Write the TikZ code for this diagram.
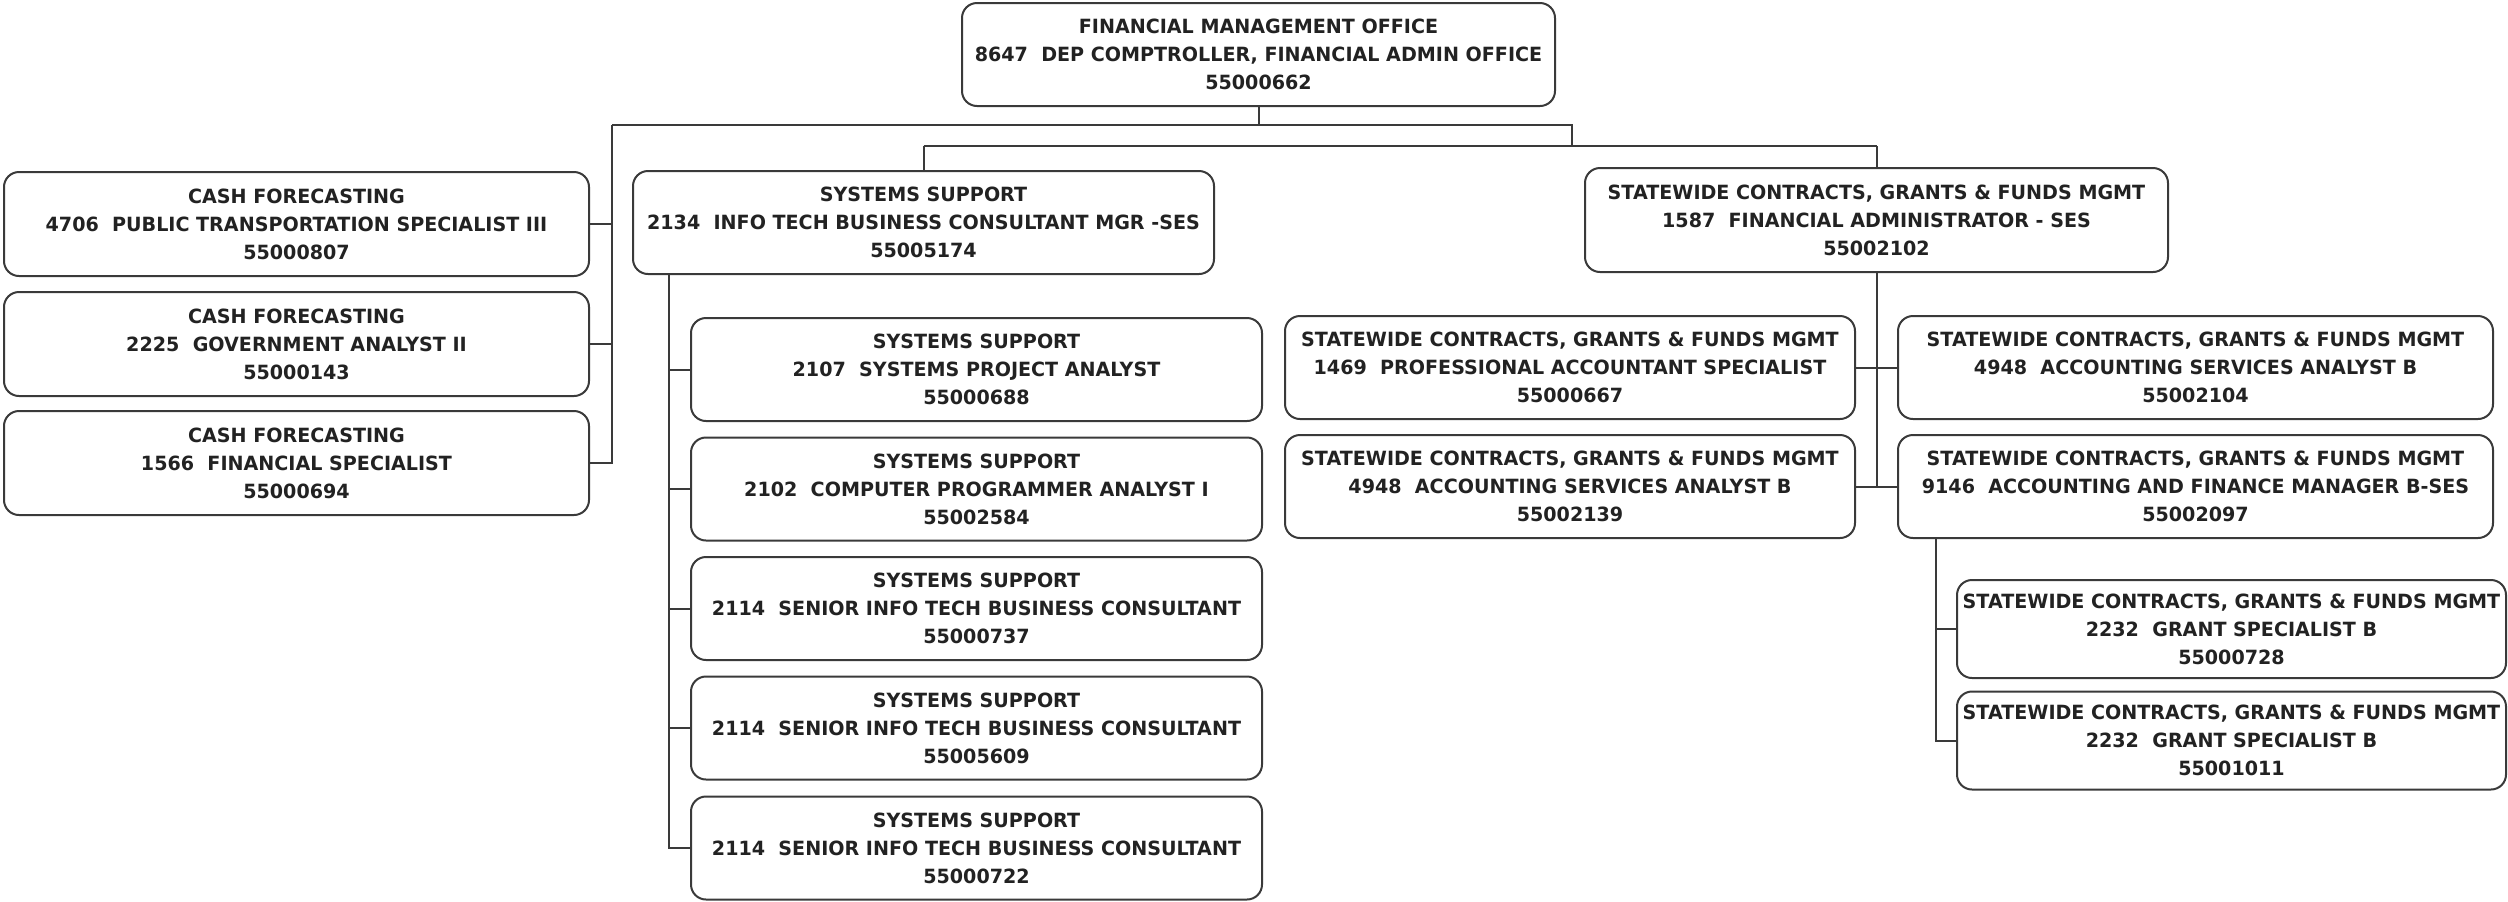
\documentclass[tikz,border=0pt]{standalone}
\usepackage{fontspec}
\newfontfamily\orgfont{DejaVu Sans}[FakeStretch=0.975]
\definecolor{linec}{HTML}{3A3A3A}
\definecolor{textc}{HTML}{222222}
\begin{document}
\begin{tikzpicture}[x=0.5pt,y=-0.5pt,
  orgbox/.style={draw=linec, line width=1pt, rounded corners=7.5pt, fill=white,
    inner sep=0pt, align=center, text=textc,
    font=\orgfont\bfseries\fontsize{9.8}{14}\selectfont},
  wh/.style 2 args={minimum width=#1*0.5pt, minimum height=#2*0.5pt},
  link/.style={draw=linec, line width=1pt}]
\useasboundingbox (0,0) rectangle (2508,901);

% head office
\node[orgbox, wh={593}{103}] (top) at (1258.5,54.5)
  {FINANCIAL MANAGEMENT OFFICE\\8647\ \ DEP COMPTROLLER, FINANCIAL ADMIN OFFICE\\55000662};

% cash forecasting
\node[orgbox, wh={585}{104}] (cash1) at (296.5,224)
  {CASH FORECASTING\\4706\ \ PUBLIC TRANSPORTATION SPECIALIST III\\55000807};
\node[orgbox, wh={585}{104}] (cash2) at (296.5,344)
  {CASH FORECASTING\\2225\ \ GOVERNMENT ANALYST II\\55000143};
\node[orgbox, wh={585}{104}] (cash3) at (296.5,463)
  {CASH FORECASTING\\1566\ \ FINANCIAL SPECIALIST\\55000694};

% systems support
\node[orgbox, wh={581}{103}] (sys) at (923.5,222.5)
  {SYSTEMS SUPPORT\\2134\ \ INFO TECH BUSINESS CONSULTANT MGR -SES\\55005174};
\node[orgbox, wh={571}{103}] (sub1) at (976.5,369.5)
  {SYSTEMS SUPPORT\\2107\ \ SYSTEMS PROJECT ANALYST\\55000688};
\node[orgbox, wh={571}{103}] (sub2) at (976.5,489)
  {SYSTEMS SUPPORT\\2102\ \ COMPUTER PROGRAMMER ANALYST I\\55002584};
\node[orgbox, wh={571}{103}] (sub3) at (976.5,608.5)
  {SYSTEMS SUPPORT\\2114\ \ SENIOR INFO TECH BUSINESS CONSULTANT\\55000737};
\node[orgbox, wh={571}{103}] (sub4) at (976.5,728)
  {SYSTEMS SUPPORT\\2114\ \ SENIOR INFO TECH BUSINESS CONSULTANT\\55005609};
\node[orgbox, wh={571}{103}] (sub5) at (976.5,848)
  {SYSTEMS SUPPORT\\2114\ \ SENIOR INFO TECH BUSINESS CONSULTANT\\55000722};

% statewide contracts, grants & funds
\node[orgbox, wh={583}{104}] (sw) at (1876.5,220)
  {STATEWIDE CONTRACTS, GRANTS \& FUNDS MGMT\\1587\ \ FINANCIAL ADMINISTRATOR - SES\\55002102};
\node[orgbox, wh={570}{103}] (swl1) at (1570,367.5)
  {STATEWIDE CONTRACTS, GRANTS \& FUNDS MGMT\\1469\ \ PROFESSIONAL ACCOUNTANT SPECIALIST\\55000667};
\node[orgbox, wh={570}{103}] (swl2) at (1570,486.5)
  {STATEWIDE CONTRACTS, GRANTS \& FUNDS MGMT\\4948\ \ ACCOUNTING SERVICES ANALYST B\\55002139};
\node[orgbox, wh={595}{103}] (swr1) at (2195.5,367.5)
  {STATEWIDE CONTRACTS, GRANTS \& FUNDS MGMT\\4948\ \ ACCOUNTING SERVICES ANALYST B\\55002104};
\node[orgbox, wh={595}{103}] (swr2) at (2195.5,486.5)
  {STATEWIDE CONTRACTS, GRANTS \& FUNDS MGMT\\9146\ \ ACCOUNTING AND FINANCE MANAGER B-SES\\55002097};
\node[orgbox, wh={549}{98}] (gr1) at (2231.5,629)
  {STATEWIDE CONTRACTS, GRANTS \& FUNDS MGMT\\2232\ \ GRANT SPECIALIST B\\55000728};
\node[orgbox, wh={549}{98}] (gr2) at (2231.5,740.5)
  {STATEWIDE CONTRACTS, GRANTS \& FUNDS MGMT\\2232\ \ GRANT SPECIALIST B\\55001011};

% bus lines
\coordinate (busAL) at (612,125);
\coordinate (busAR) at (1572,125);
\coordinate (busBL) at (923.5,146);
\coordinate (busBR) at (1876.5,146);
\coordinate (sysv) at (669,0);
\coordinate (grv) at (1936,0);

\draw[link] (top.south) -- (top.south |- busAL);
\draw[link] (busAL) -- (busAR) -- (busAR |- busBL);
\draw[link] (busBL) -- (busBR);
\draw[link] (busBL) -- (sys.north);
\draw[link] (busBR) -- (sw.north);

% cash forecasting branch
\draw[link] (busAL) |- (cash3.east);
\draw[link] (cash1.east) -- (cash1.east -| busAL);
\draw[link] (cash2.east) -- (cash2.east -| busAL);

% systems support branch
\draw[link] (sys.south -| sysv) |- (sub5.west);
\foreach \n in {sub1,sub2,sub3,sub4}
  \draw[link] (\n.west) -- (\n.west -| sysv);

% statewide branch
\draw[link] (sw.south) -- (sw.south |- swl2.east);
\draw[link] (swl1.east) -- (swr1.west);
\draw[link] (swl2.east) -- (swr2.west);

% grants branch
\draw[link] (swr2.south -| grv) |- (gr2.west);
\draw[link] (gr1.west) -- (gr1.west -| grv);
\end{tikzpicture}
\end{document}
